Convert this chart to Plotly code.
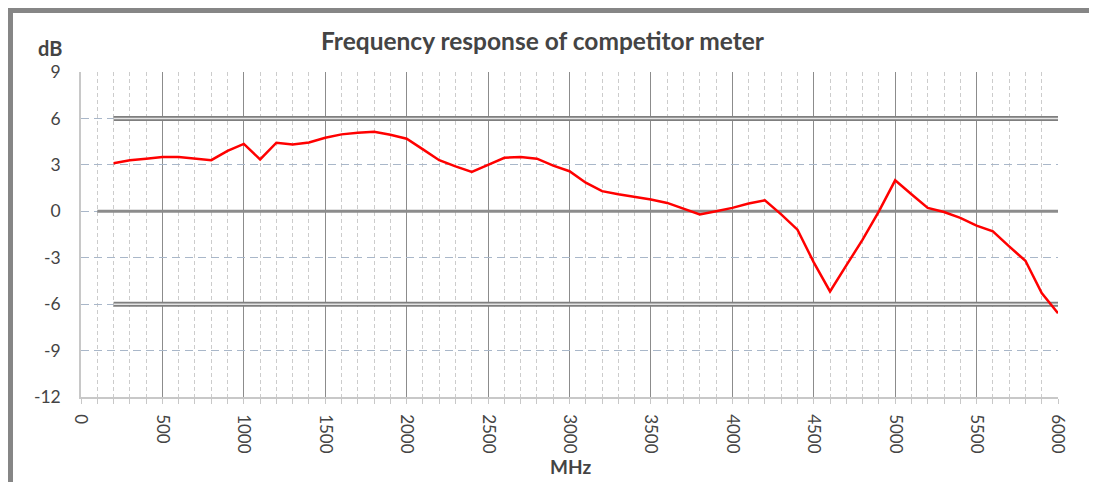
import plotly.graph_objects as go

# ---- data ----
freq_mhz = [200, 300, 400, 500, 600, 700, 800, 900, 1000, 1100, 1200, 1300, 1400, 1500,
            1600, 1700, 1800, 1900, 2000, 2100, 2200, 2300, 2400, 2500, 2600, 2700, 2800,
            2900, 3000, 3100, 3200, 3300, 3400, 3500, 3600, 3700, 3800, 3900, 4000, 4100,
            4200, 4300, 4400, 4500, 4600, 4700, 4800, 4900, 5000, 5100, 5200, 5300, 5400,
            5500, 5600, 5700, 5800, 5900, 6000]
response_db = [3.1, 3.3, 3.4, 3.5, 3.5, 3.4, 3.3, 3.9, 4.35, 3.35, 4.43, 4.32, 4.45, 4.75,
               4.97, 5.08, 5.14, 4.95, 4.69, 4.0, 3.3, 2.9, 2.55, 3.0, 3.46, 3.5, 3.4,
               2.95, 2.59, 1.85, 1.3, 1.1, 0.95, 0.76, 0.54, 0.15, -0.2, 0.0, 0.22, 0.5,
               0.71, -0.2, -1.19, -3.3, -5.18, -3.5, -1.83, 0.0, 2.0, 1.1, 0.22, -0.05, -0.43,
               -0.93, -1.3, -2.27, -3.2, -5.29, -6.59]

limit_x = [200, 6000]
upper_limit = [6, 6]
lower_limit = [-6, -6]
zero_x = [100, 6000]
zero_y = [0, 0]

y_ticks = [9, 6, 3, 0, -3, -6, -9, -12]
y_tick_text = ["9", "6", "3", "0", "-3", "-6", "-9", "-12"]
x_ticks = [0, 500, 1000, 1500, 2000, 2500, 3000, 3500, 4000, 4500, 5000, 5500, 6000]

title_text = "Frequency response of competitor meter"
y_title = "dB"
x_title = "MHz"

FONT = "Lato"
TXT = "#444444"
GRID_MAJ = "#8c8c8c"

fig = go.Figure()

# zero reference line
fig.add_trace(go.Scatter(x=zero_x, y=zero_y, mode="lines",
                         line=dict(color=GRID_MAJ, width=3), hoverinfo="skip", showlegend=False))
# limit lines (double-line look)
for lim in (upper_limit, lower_limit):
    fig.add_trace(go.Scatter(x=limit_x, y=lim, mode="lines",
                             line=dict(color="#7f7f7f", width=5), hoverinfo="skip", showlegend=False))
    fig.add_trace(go.Scatter(x=limit_x, y=lim, mode="lines",
                             line=dict(color="#e4e4e4", width=1.5), hoverinfo="skip", showlegend=False))

# response curve
fig.add_trace(go.Scatter(x=freq_mhz, y=response_db, mode="lines",
                         line=dict(color="#ff0000", width=2.5), showlegend=False))

# page has an 8px body margin; figure coordinates are page coordinates minus OFF
OFF = 8
W, H = 1097 - OFF, 482 - OFF
L, T = 81 - OFF, 72 - OFF
R = W - (1058 - OFF)
B = H - (397 - OFF)
pw, ph = W - L - R, H - T - B

def px(x):
    return (x - OFF - L) / pw

def py(y):
    return (H - B - (y - OFF)) / ph

fig.update_layout(
    width=W, height=H,
    margin=dict(l=L, r=R, t=T, b=B),
    paper_bgcolor="white", plot_bgcolor="white",
    font=dict(family=FONT, color=TXT, size=17),
    showlegend=False,
    xaxis=dict(
        range=[0, 6000], tickvals=x_ticks, tickangle=90,
        showgrid=True, gridcolor=GRID_MAJ, gridwidth=1.3,
        zeroline=False, showline=True, linecolor="#c8c8c8", linewidth=1.5,
        ticks="outside", ticklen=5, tickcolor="#c8c8c8",
        tickfont=dict(size=17, color=TXT, family=FONT),
        minor=dict(dtick=100, showgrid=True, gridcolor="#cccccc", griddash="4px,3px",
                   gridwidth=1, ticks="outside", ticklen=5, tickcolor="#c8c8c8"),
        ticklabelstandoff=7,
    ),
    yaxis=dict(
        range=[-12, 9], tickvals=y_ticks, ticktext=y_tick_text,
        showgrid=True, gridcolor="#a9b7c9", griddash="8px,5px", gridwidth=1,
        zeroline=False, showline=True, linecolor="#c8c8c8", linewidth=1.5,
        ticks="", tickfont=dict(size=17.5, color=TXT, family=FONT),
        ticklabelstandoff=15,
    ),
    annotations=[
        dict(text="<b>%s</b>" % title_text, x=px(543), y=py(41), xref="paper", yref="paper",
             showarrow=False, font=dict(size=24.5, color=TXT, family=FONT),
             xanchor="center", yanchor="middle"),
        dict(text="<b>%s</b>" % y_title, x=px(50), y=py(48), xref="paper", yref="paper",
             showarrow=False, font=dict(size=20, color=TXT, family=FONT),
             xanchor="center", yanchor="middle"),
        dict(text="<b>%s</b>" % x_title, x=px(570), y=py(466), xref="paper", yref="paper",
             showarrow=False, font=dict(size=19, color=TXT, family=FONT),
             xanchor="center", yanchor="middle"),
    ],
    shapes=[
        dict(type="rect", xref="paper", yref="paper", x0=px(8), x1=px(13), y0=py(482), y1=py(8),
             fillcolor="#868686", line=dict(width=0), layer="above"),
        dict(type="rect", xref="paper", yref="paper", x0=px(8), x1=px(1097), y0=py(13), y1=py(8),
             fillcolor="#868686", line=dict(width=0), layer="above"),
    ],
)

fig.write_html("out.html")
